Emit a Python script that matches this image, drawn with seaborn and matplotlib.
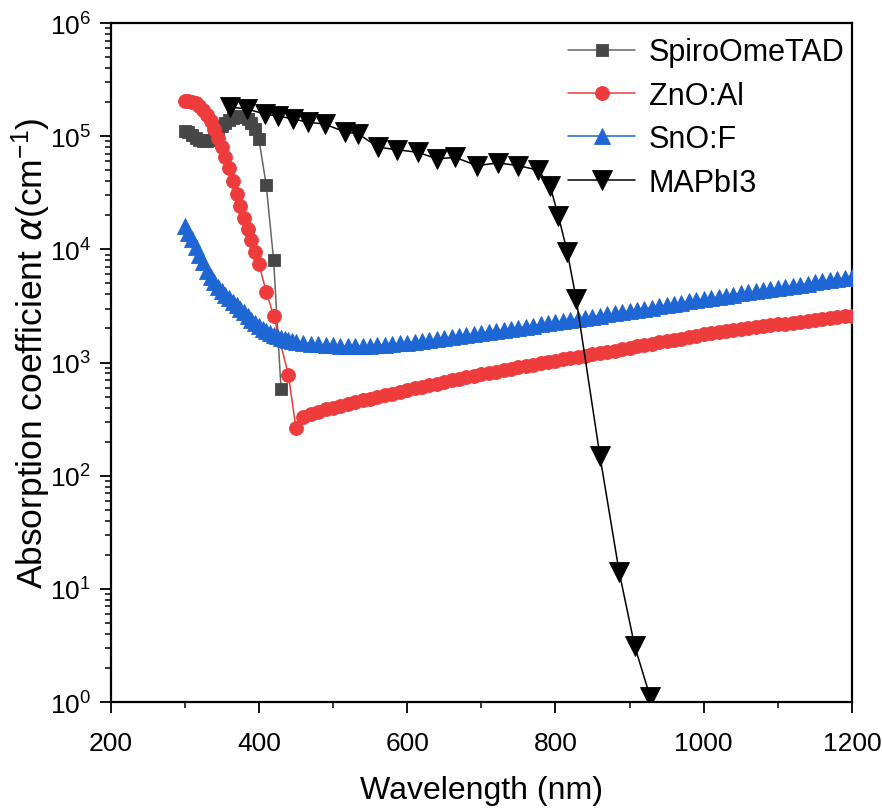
import matplotlib
matplotlib.use("Agg")
import matplotlib.pyplot as plt
import seaborn as sns
import numpy as np
import pandas as pd
from matplotlib.ticker import LogLocator, MultipleLocator, NullFormatter

# ---- data: absorption coefficient (cm^-1) vs wavelength (nm) ----
spiro_wl = [300, 305, 310, 315, 320, 325, 330, 335, 340, 345, 350, 355, 360,
            365, 370, 375, 380, 385, 390, 395, 400, 410, 420, 430]
spiro_alpha = [1.12e5, 1.10e5, 1.03e5, 9.6e4, 9.2e4, 9.0e4, 9.0e4, 9.3e4, 1.0e5,
               1.1e5, 1.22e5, 1.32e5, 1.4e5, 1.45e5, 1.48e5, 1.5e5, 1.48e5,
               1.42e5, 1.3e5, 1.15e5, 9.5e4, 3.7e4, 8.0e3, 5.8e2]

zno_wl = [300, 305, 310, 315, 320, 325, 330, 335, 340, 345, 350, 355, 360, 365,
          370, 375, 380, 385, 390, 395, 400, 410, 420, 440, 450,
          460, 470, 480, 490, 500, 510, 520, 530, 540, 550, 560, 570, 580, 590,
          600, 610, 620, 630, 640, 650, 660, 670, 680, 690, 700, 710, 720, 730,
          740, 750, 760, 770, 780, 790, 800, 810, 820, 830, 840, 850, 860, 870,
          880, 890, 900, 910, 920, 930, 940, 950, 960, 970, 980, 990, 1000,
          1010, 1020, 1030, 1040, 1050, 1060, 1070, 1080, 1090, 1100, 1110,
          1120, 1130, 1140, 1150, 1160, 1170, 1180, 1190, 1200]
zno_alpha = [2.05e5, 2.05e5, 2.0e5, 1.95e5, 1.85e5, 1.72e5, 1.55e5, 1.35e5,
             1.15e5, 9.6e4, 8.0e4, 6.5e4, 5.2e4, 4.0e4, 3.1e4, 2.4e4, 1.9e4,
             1.5e4, 1.2e4, 9.5e3, 7.5e3, 4.2e3, 2.6e3, 770, 265,
             330, 350, 368, 385, 400, 415, 430, 446, 462, 478, 495, 512, 530,
             550, 570, 590, 610, 630, 650, 672, 694, 716, 738, 760, 785, 808,
             832, 856, 880, 905, 930, 956, 982, 1010, 1038, 1066, 1094, 1122,
             1150, 1180, 1210, 1240, 1272, 1304, 1350, 1390, 1430, 1470, 1510,
             1550, 1590, 1630, 1670, 1720, 1770, 1810, 1850, 1890, 1930, 1970,
             2010, 2050, 2090, 2130, 2170, 2210, 2250, 2290, 2330, 2380, 2420,
             2470, 2510, 2560, 2600]

sno_wl = [300, 305, 310, 315, 320, 325, 330, 335, 340, 345, 350, 355, 360,
          365, 370, 375, 380, 385, 390, 395, 400, 405, 410, 415, 420, 425,
          430, 435, 440, 445, 450,
          460, 470, 480, 490, 500, 510, 520, 530, 540, 550, 560, 570, 580,
          590, 600, 610, 620, 630, 640, 650, 660, 670, 680, 690, 700, 710,
          720, 730, 740, 750, 760, 770, 780, 790, 800, 810, 820, 830, 840,
          850, 860, 870, 880, 890, 900, 910, 920, 930, 940, 950, 960, 970,
          980, 990, 1000, 1010, 1020, 1030, 1040, 1050, 1060, 1070, 1080,
          1090, 1100, 1110, 1120, 1130, 1140, 1150, 1160, 1170, 1180, 1190, 1200]
sno_alpha = [16000, 14000, 12400, 10600, 9000, 7700, 6500, 5700, 5100, 4650,
             4300, 3980, 3700, 3440, 3200, 2990, 2800, 2600, 2400, 2240,
             2100, 1990, 1900, 1820, 1750, 1700, 1650, 1610, 1580, 1550, 1530,
             1500, 1470, 1450, 1430, 1420, 1410, 1400, 1400, 1400, 1410, 1420,
             1440, 1460, 1480, 1500, 1530, 1560, 1590, 1620, 1650, 1680, 1720,
             1750, 1790, 1830, 1870, 1910, 1950, 1990, 2030, 2080, 2120, 2170,
             2220, 2270, 2320, 2370, 2420, 2480, 2540, 2600, 2660, 2720, 2780,
             2850, 2920, 2990, 3060, 3140, 3220, 3300, 3380, 3470, 3560, 3650,
             3730, 3810, 3900, 3990, 4080, 4170, 4260, 4360, 4460, 4560, 4660,
             4770, 4880, 4990, 5100, 5220, 5340, 5460, 5580, 5700]

mapi_wl = [361, 384, 408, 426, 446, 466, 489, 516, 534, 561, 586, 615, 640,
           665, 694, 723, 750, 777, 793, 804, 816, 828, 860, 886, 907, 928]
mapi_alpha = [1.81e5, 1.74e5, 1.57e5, 1.51e5, 1.42e5, 1.33e5, 1.28e5, 1.09e5,
              1.05e5, 8.0e4, 7.6e4, 7.2e4, 6.3e4, 6.5e4, 5.5e4, 5.8e4, 5.5e4,
              5.0e4, 3.6e4, 1.97e4, 9.5e3, 3.65e3, 150, 14.1, 3.1, 1.1]

labels = ["SpiroOmeTAD", "ZnO:Al", "SnO:F", "MAPbI3"]

# ---- style ----
sns.set_theme(style="ticks")
plt.rcParams["font.family"] = ["Liberation Sans", "DejaVu Sans"]
plt.rcParams["mathtext.default"] = "regular"
for key in ("text.color", "axes.labelcolor", "xtick.color", "ytick.color", "axes.edgecolor"):
    plt.rcParams[key] = "black"

fig = plt.figure(figsize=(8.82, 8.12), dpi=100)
ax = fig.add_axes([0.1253, 0.1342, 0.8407, 0.8362])

series = [
    (spiro_wl, spiro_alpha, labels[0], dict(color="#666666", marker="s", markersize=8.4,
                                            markerfacecolor="#474747", markeredgecolor="#474747")),
    (zno_wl, zno_alpha, labels[1], dict(color="#ee3b3b", marker="o", markersize=10,
                                        markerfacecolor="#ee3b3b", markeredgecolor="#ee3b3b")),
    (sno_wl, sno_alpha, labels[2], dict(color="#1e66d4", marker="^", markersize=11,
                                        markerfacecolor="#1e66d4", markeredgecolor="#1e66d4")),
    (mapi_wl, mapi_alpha, labels[3], dict(color="#000000", marker="v", markersize=15,
                                          markerfacecolor="#000000", markeredgecolor="#000000")),
]
for i, (wl, a, lab, kw) in enumerate(series):
    df = pd.DataFrame({"wl": wl, "alpha": a})
    sns.lineplot(data=df, x="wl", y="alpha", ax=ax, label=lab, linewidth=1.1,
                 markeredgewidth=0.6, zorder=3 + i, **kw)

ax.set_yscale("log")
ax.set_xlim(200, 1200)
ax.set_ylim(1, 1e6)
ax.xaxis.set_major_locator(MultipleLocator(200))
ax.xaxis.set_minor_locator(MultipleLocator(100))
ax.yaxis.set_major_locator(LogLocator(base=10, numticks=10))
ax.yaxis.set_minor_locator(LogLocator(base=10, subs=np.arange(2, 10), numticks=20))
ax.yaxis.set_minor_formatter(NullFormatter())

for s in ax.spines.values():
    s.set_linewidth(1.6)
    s.set_color("black")
ax.tick_params(which="major", direction="out", length=8, width=1.3, colors="black",
               labelsize=19)
ax.tick_params(axis="x", which="major", pad=13)
ax.tick_params(axis="y", which="major", pad=6)
ax.tick_params(which="minor", direction="out", length=4.5, width=1.1, colors="black")
ax.tick_params(top=False, right=False, which="both")

ax.set_xlabel("Wavelength (nm)", fontsize=23)
ax.xaxis.set_label_coords(0.5, -0.108)
ax.set_ylabel(r"Absorption coefficient $\mathit{\alpha}$(cm$^{-1}$)", fontsize=25.5)
ax.yaxis.set_label_coords(-0.077, 0.515)

leg = ax.legend(loc="upper left", bbox_to_anchor=(0.617, 0.979), frameon=False,
                fontsize=22, handlelength=2.2, handletextpad=0.45, labelspacing=0.44,
                borderpad=0, borderaxespad=0)

fig.savefig("out.png", dpi=100)
